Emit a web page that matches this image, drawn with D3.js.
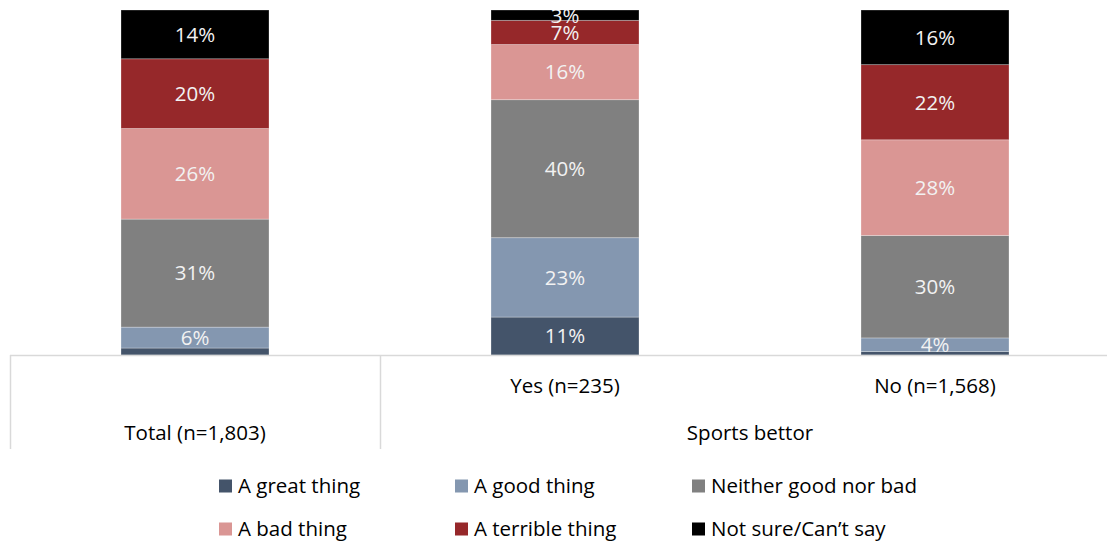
<!DOCTYPE html>
<html>
<head>
<meta charset="utf-8">
<script src="https://cdn.jsdelivr.net/npm/d3@7/dist/d3.min.js"></script>
<style>
  html, body { margin: 0; padding: 0; background: #fff; }
  svg { display: block; font-family: "Open Sans", "Noto Sans", sans-serif; }
</style>
</head>
<body>
<svg id="chart" width="1107" height="544"></svg>
<script>
// Opinion categories (stack order, bottom to top)
const seriesNames = ["A great thing", "A good thing", "Neither good nor bad", "A bad thing", "A terrible thing", "Not sure/Can’t say"];
const seriesColors = ["#44546a", "#8497b0", "#808080", "#da9694", "#96282a", "#000000"];

// Bars and their axis labels
const categories = ["Total (n=1,803)", "Yes (n=235)", "No (n=1,568)"];
const groupLabel = "Sports bettor";

// Percent values per series, one entry per bar
const greatThing   = [2, 11, 1];
const goodThing    = [6, 23, 4];
const neitherThing = [31, 40, 30];
const badThing     = [26, 16, 28];
const terrible     = [20, 7, 22];
const notSure      = [14, 3, 16];

const seriesValues = [greatThing, goodThing, neitherThing, badThing, terrible, notSure];

const rows = categories.map((c, i) => {
  const r = { category: c };
  seriesNames.forEach((s, k) => { r[s] = seriesValues[k][i]; });
  return r;
});

const svg = d3.select("#chart");
const W = 1107;
const plotTop = 10, plotBottom = 355, plotLeft = 10, plotRight = 1120;
const fontSize = 20.5;

const x = d3.scaleBand().domain(categories).range([plotLeft, plotRight])
  .paddingInner(0.6).paddingOuter(0.3);
const y = d3.scaleLinear().domain([0, 1]).range([plotBottom, plotTop]);

const stack = d3.stack().keys(seriesNames).offset(d3.stackOffsetExpand);
const layers = stack(rows);

svg.append("defs").append("clipPath").attr("id", "plotClip")
  .append("rect").attr("x", 0).attr("y", plotTop).attr("width", W).attr("height", plotBottom - plotTop);

const plot = svg.append("g").attr("clip-path", "url(#plotClip)");

const layerG = plot.selectAll("g.layer").data(layers).join("g")
  .attr("class", "layer")
  .attr("fill", (d, i) => seriesColors[i]);

layerG.selectAll("rect").data(d => d).join("rect")
  .attr("x", d => x(d.data.category))
  .attr("width", x.bandwidth())
  .attr("y", d => y(d[1]))
  .attr("height", d => y(d[0]) - y(d[1]))
  .attr("stroke", "rgba(255,255,255,0.35)")
  .attr("stroke-width", 0.8);

// Value labels (segments under 3% are left unlabelled)
layers.forEach((layer, i) => {
  const key = layer.key;
  plot.append("g").selectAll("text").data(layer.filter(d => d.data[key] >= 3)).join("text")
    .attr("x", d => x(d.data.category) + x.bandwidth() / 2)
    .attr("y", d => (y(d[0]) + y(d[1])) / 2)
    .attr("dy", "0.36em")
    .attr("text-anchor", "middle")
    .attr("font-size", fontSize)
    .attr("fill", "#f2f2f2")
    .text(d => d.data[key] + "%");
});

// Category axis
const axisColor = "#d9d9d9";
svg.append("line").attr("x1", plotLeft).attr("x2", W).attr("y1", plotBottom + 0.5).attr("y2", plotBottom + 0.5)
  .attr("stroke", axisColor).attr("stroke-width", 1.5);
const step = x.step();
[plotLeft, plotLeft + step].forEach(px => {
  svg.append("line").attr("x1", px + 0.5).attr("x2", px + 0.5).attr("y1", plotBottom).attr("y2", 449)
    .attr("stroke", axisColor).attr("stroke-width", 1.5);
});

const axisText = svg.append("g").attr("font-size", fontSize).attr("fill", "#000").attr("text-anchor", "middle");
axisText.append("text")
  .attr("x", x(categories[0]) + x.bandwidth() / 2).attr("y", 433).attr("dy", "0.36em")
  .text(categories[0]);
categories.slice(1).forEach(c => {
  axisText.append("text")
    .attr("x", x(c) + x.bandwidth() / 2).attr("y", 386).attr("dy", "0.36em")
    .text(c);
});
axisText.append("text")
  .attr("x", plotLeft + step * 2).attr("y", 433).attr("dy", "0.36em")
  .text(groupLabel);

// Legend
const legendCols = [219, 455, 692];
const legendRows = [486, 529];
const legend = svg.append("g").attr("font-size", fontSize);
seriesNames.forEach((s, i) => {
  const cx = legendCols[i % 3], cy = legendRows[Math.floor(i / 3)];
  legend.append("rect").attr("x", cx).attr("y", cy - 6.5).attr("width", 13).attr("height", 13)
    .attr("fill", seriesColors[i]);
  legend.append("text").attr("x", cx + 19).attr("y", cy).attr("dy", "0.36em")
    .attr("fill", "#000").text(s);
});
</script>
</body>
</html>
